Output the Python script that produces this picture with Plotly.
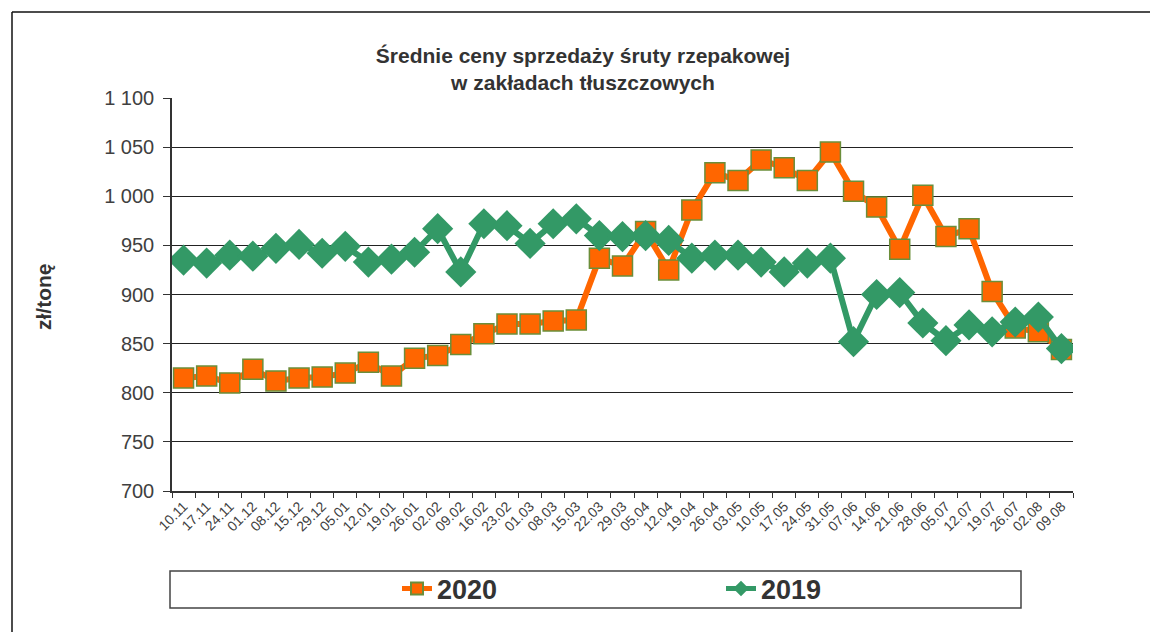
import plotly.graph_objects as go

categories = ["10.11", "17.11", "24.11", "01.12", "08.12", "15.12", "29.12", "05.01", "12.01",
              "19.01", "26.01", "02.02", "09.02", "16.02", "23.02", "01.03", "08.03", "15.03",
              "22.03", "29.03", "05.04", "12.04", "19.04", "26.04", "03.05", "10.05", "17.05",
              "24.05", "31.05", "07.06", "14.06", "21.06", "28.06", "05.07", "12.07", "19.07",
              "26.07", "02.08", "09.08"]

prices_2020 = [815, 817, 810, 824, 812, 815, 816, 820, 831, 817, 835, 838, 849, 860, 870, 870,
               873, 874, 937, 929, 964, 925, 986, 1024, 1016, 1037, 1029, 1016, 1045, 1005, 989,
               946, 1001, 959, 967, 903, 866, 862, 844]

prices_2019 = [935, 932, 940, 939, 947, 951, 942, 949, 933, 936, 943, 967, 923, 972, 970, 952,
               972, 977, 960, 959, 960, 955, 937, 940, 940, 933, 923, 932, 937, 852, 900, 902,
               871, 853, 869, 862, 872, 877, 845]

y_ticks = [700, 750, 800, 850, 900, 950, 1000, 1050, 1100]

FONT = "Liberation Sans, Arial, sans-serif"
TXT = "#404040"

fig = go.Figure()
fig.add_trace(go.Scatter(
    x=categories, y=prices_2020, name="2020", mode="lines+markers",
    line=dict(color="#FF6600", width=6),
    marker=dict(symbol="square", size=20, color="#FF6600",
                line=dict(color="#6B8E3A", width=1.5)),
))
fig.add_trace(go.Scatter(
    x=categories, y=prices_2019, name="2019", mode="lines+markers",
    line=dict(color="#339966", width=6),
    marker=dict(symbol="diamond", size=24, color="#339966",
                line=dict(color="#339966", width=0)),
))

OFF = 8  # page body margin
W, H = 1150, 624
L, T = 172 - OFF, 98 - OFF
R = W - (1073 - OFF)
B = H - (491 - OFF)
pw, ph = W - L - R, H - T - B

def px(x):  # page x -> paper
    return (x - OFF - L) / pw

def py(y):  # page y -> paper
    return (H - B - (y - OFF)) / ph

fig.update_layout(
    width=W, height=H,
    margin=dict(l=L, r=R, t=T, b=B),
    paper_bgcolor="white", plot_bgcolor="white",
    separators=", ",
    font=dict(family=FONT, color=TXT),
    title=dict(text="<b>Średnie ceny sprzedaży śruty rzepakowej<br>w zakładach tłuszczowych</b>",
               x=0.5, xref="container", xanchor="center",
               y=1 - 55 / H, yref="container", yanchor="middle",
               font=dict(family=FONT, size=21, color="#333333")),
    showlegend=True,
    legend=dict(orientation="h", x=px(397), xanchor="left", y=py(589), yanchor="middle",
                font=dict(family=FONT, size=27, color="#333333", weight="bold"),
                entrywidth=279, entrywidthmode="pixels", bgcolor="rgba(0,0,0,0)",
                itemsizing="constant"),
    xaxis=dict(type="category", categoryorder="array", categoryarray=categories,
               tickangle=-45, tickfont=dict(family=FONT, size=14, color=TXT),
               showline=True, linecolor="#333333", linewidth=1.5,
               ticks="outside", ticklen=5, tickcolor="#333333", tickson="boundaries",
               showgrid=False, range=[-0.5, len(categories) - 0.5], fixedrange=True),
    yaxis=dict(range=[700, 1100], tickvals=y_ticks, tickformat=",d",
               tickfont=dict(family=FONT, size=20, color=TXT),
               showline=True, linecolor="#333333", linewidth=1.5,
               ticks="outside", ticklen=7, tickcolor="#333333", ticklabelstandoff=5,
               showgrid=True, gridcolor="#222222", gridwidth=1, zeroline=False),
    annotations=[dict(text="<b>zł/tonę</b>", textangle=-90, xref="paper", yref="paper",
                      x=px(43), y=py(297), xanchor="center", yanchor="middle", showarrow=False,
                      font=dict(family=FONT, size=21, color="#333333"))],
    shapes=[
        dict(type="rect", xref="paper", yref="paper", x0=px(170), x1=px(1021),
             y0=py(608), y1=py(571), line=dict(color="#444444", width=1.5), layer="below"),
        dict(type="line", xref="paper", yref="paper", x0=px(12), x1=px(12),
             y0=py(640), y1=py(12), line=dict(color="#111111", width=1.5)),
        dict(type="line", xref="paper", yref="paper", x0=px(12), x1=px(1157),
             y0=py(12), y1=py(12), line=dict(color="#111111", width=1.5)),
        dict(type="line", xref="paper", yref="paper", x0=px(1157), x1=px(1157),
             y0=py(640), y1=py(12), line=dict(color="#999999", width=1)),
    ],
)

fig.write_html("out.html")
